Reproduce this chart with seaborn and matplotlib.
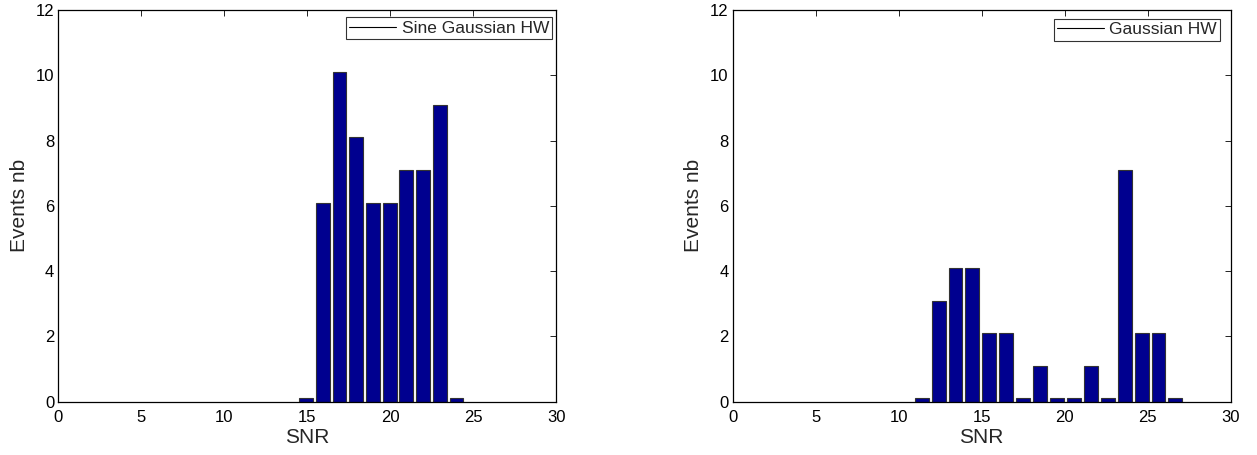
import matplotlib
matplotlib.use("Agg")
import matplotlib.pyplot as plt
from matplotlib.lines import Line2D
import seaborn as sns
import pandas as pd

# Data
left_snr = [14.93, 15.94, 16.94, 17.95, 18.95, 19.96, 20.96, 21.97, 22.97, 23.98]
left_events = [0.1, 6.1, 10.1, 8.1, 6.1, 6.1, 7.1, 7.1, 9.1, 0.1]
left_label = "Sine Gaussian HW"

right_snr = [11.38, 12.40, 13.42, 14.44, 15.46, 16.48, 17.50, 18.52,
             19.53, 20.55, 21.57, 22.59, 23.61, 24.63, 25.65, 26.67]
right_events = [0.1, 3.1, 4.1, 4.1, 2.1, 2.1, 0.1, 1.1,
                0.1, 0.1, 1.1, 0.1, 7.1, 2.1, 2.1, 0.1]
right_label = "Gaussian HW"

x_ticks = [0, 5, 10, 15, 20, 25, 30]
y_ticks = [0, 2, 4, 6, 8, 10, 12]

sns.set_style("white")
plt.rcParams['font.family'] = ['Liberation Sans', 'DejaVu Sans']

fig = plt.figure(figsize=(12.57, 4.55), dpi=100)
ax1 = fig.add_axes([0.0464, 0.1171, 0.3962, 0.861])
ax2 = fig.add_axes([0.5829, 0.1171, 0.3962, 0.861])

bar_color = "#00008f"

for ax, xs, ys, lab, anchor in [(ax1, left_snr, left_events, left_label, (0.992, 0.982)),
                                (ax2, right_snr, right_events, right_label, (0.979, 0.978))]:
    df = pd.DataFrame({"SNR": xs, "Events": ys})
    sns.barplot(data=df, x="SNR", y="Events", native_scale=True, ax=ax,
                color=bar_color, saturation=1, width=0.83,
                edgecolor="#333333", linewidth=0.8, errorbar=None)
    ax.set_xlim(0, 30)
    ax.set_ylim(0, 12)
    ax.set_xticks(x_ticks)
    ax.set_yticks(y_ticks)
    ax.set_xticklabels([str(t) for t in x_ticks])
    ax.set_yticklabels([str(t) for t in y_ticks])
    ax.tick_params(direction="in", length=4, width=0.6, top=True, right=True,
                   labelsize=12, colors="black")
    ax.tick_params(axis="x", pad=6)
    ax.tick_params(axis="y", pad=3)
    for s in ax.spines.values():
        s.set_visible(True)
        s.set_color("black")
        s.set_linewidth(0.9)
    ax.set_xlabel("SNR", fontsize=15, labelpad=2)
    ax.set_ylabel("Events nb", fontsize=15, labelpad=5)
    handle = Line2D([0], [0], color="black", lw=0.8)
    leg = ax.legend([handle], [lab], loc="upper right",
                    bbox_to_anchor=anchor, borderaxespad=0,
                    fontsize=12.5, frameon=True, fancybox=False,
                    edgecolor="black", handlelength=2.7, handletextpad=0.3,
                    borderpad=0.2)
    leg.get_frame().set_linewidth(0.8)

fig.savefig("out.png", dpi=100)
